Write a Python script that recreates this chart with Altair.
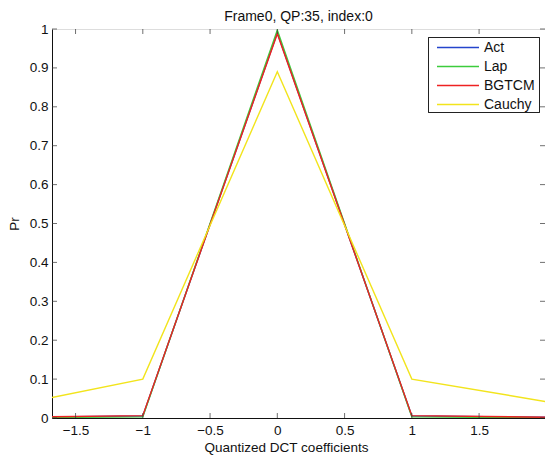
import altair as alt
import pandas as pd

# ---- data ----
x_vals = [-2, -1, 0, 1, 2]
act = [0.002, 0.005, 0.990, 0.005, 0.002]
lap = [0.0005, 0.003, 0.997, 0.003, 0.0005]
bgtcm = [0.002, 0.006, 0.988, 0.006, 0.002]
cauchy = [0.030, 0.100, 0.890, 0.100, 0.042]

series_names = ["Act", "Lap", "BGTCM", "Cauchy"]
series_colors = ["#2444cc", "#3ccc3c", "#ee2222", "#f2e41c"]

x_ticks = [-1.5, -1, -0.5, 0, 0.5, 1, 1.5]
y_ticks = [0, 0.1, 0.2, 0.3, 0.4, 0.5, 0.6, 0.7, 0.8, 0.9, 1.0]
x_domain = [-1.675, 1.99]
y_domain = [0, 1]

title_text = "Frame0, QP:35, index:0"
x_title = "Quantized DCT coefficients"
y_title = "Pr"

W, H = 493, 389
FONT = "Liberation Sans"
LW = 1.4

rows = []
for i, (name, vals) in enumerate(zip(series_names, [act, lap, bgtcm, cauchy])):
    for xv, yv in zip(x_vals, vals):
        rows.append({"x": xv, "y": yv, "series": name, "k": i})
df = pd.DataFrame(rows)

xs = alt.Scale(domain=x_domain, nice=False, zero=False)
ys = alt.Scale(domain=y_domain, nice=False, zero=False)
cs = alt.Scale(domain=series_names, range=series_colors)

x_axis = alt.Axis(values=x_ticks, format="~g", grid=False, ticks=False, tickSize=0,
                  labelPadding=5, labelFontSize=13.5, labelFont=FONT, labelColor="#111",
                  labelOverlap=False,
                  domainColor="#111", title=x_title, titleFont=FONT, titleFontSize=13.5,
                  titleFontWeight="normal", titleColor="#111", titleBaseline="alphabetic",
                  titleY=33.5, titleX=234, titleAlign="center")
y_axis = alt.Axis(values=y_ticks, format="~g", grid=False, ticks=False, tickSize=0,
                  labelPadding=4, labelFontSize=13.5, labelFont=FONT, labelColor="#111",
                  labelOverlap=False, labelBound=False,
                  domainColor="#111", title=y_title, titleFont=FONT, titleFontSize=13.5,
                  titleFontWeight="normal", titleColor="#111", titleBaseline="alphabetic",
                  titleX=-33.5, titleAngle=270)

lines = (
    alt.Chart(df)
    .mark_line(strokeWidth=LW, clip=True)
    .encode(x=alt.X("x:Q", scale=xs, axis=x_axis),
            y=alt.Y("y:Q", scale=ys, axis=y_axis),
            color=alt.Color("series:N", scale=cs, legend=None, sort=series_names),
            order=alt.Order("x:Q"))
)

xt = pd.DataFrame({"t": x_ticks})
yt = pd.DataFrame({"t": y_ticks})
tick_color = "#333"
bottom_ticks = alt.Chart(xt).mark_tick(orient="vertical", size=5, thickness=1, color=tick_color).encode(
    x=alt.X("t:Q", scale=xs, axis=x_axis), y=alt.value(H - 2.5))
top_ticks = alt.Chart(xt).mark_tick(orient="vertical", size=5, thickness=1, color=tick_color).encode(
    x=alt.X("t:Q", scale=xs, axis=x_axis), y=alt.value(2.5))
left_ticks = alt.Chart(yt).mark_tick(orient="horizontal", size=5, thickness=1, color=tick_color).encode(
    y=alt.Y("t:Q", scale=ys, axis=y_axis), x=alt.value(2.5))
right_ticks = alt.Chart(yt).mark_tick(orient="horizontal", size=5, thickness=1, color=tick_color).encode(
    y=alt.Y("t:Q", scale=ys, axis=y_axis), x=alt.value(W - 2.5))

# ---- legend box (top-right, inside the plot) ----
leg_df = pd.DataFrame({"series": series_names, "k": list(range(len(series_names)))})
LX0, LX1, LY0, LY1 = 376, 487, 8.5, 83.5
ROW0, ROWSTEP = 18.5, 19
legend_box = alt.Chart(leg_df).mark_rect(fill="white", stroke="#222", strokeWidth=1).encode(
    x=alt.value(LX0 + 0.5), x2=alt.value(LX1 + 0.5), y=alt.value(LY0), y2=alt.value(LY1))
legend_base = alt.Chart(leg_df).transform_calculate(py=f"{ROW0} + {ROWSTEP} * datum.k")
legend_lines = legend_base.mark_rule(strokeWidth=LW).encode(
    x=alt.value(385), x2=alt.value(427),
    y=alt.Y("py:Q", scale=None, axis=None),
    color=alt.Color("series:N", scale=cs, legend=None))
legend_text = legend_base.mark_text(align="left", baseline="middle", font=FONT, fontSize=14,
                                    color="#111").encode(
    x=alt.value(432), y=alt.Y("py:Q", scale=None, axis=None), text="series:N")

chart = (
    alt.layer(lines, bottom_ticks, top_ticks, left_ticks, right_ticks,
              legend_box, legend_lines, legend_text)
    .properties(
        width=W, height=H,
        title=alt.TitleParams(title_text, font=FONT, fontSize=14, fontWeight="normal",
                              color="#111", anchor="middle", offset=-2),
        autosize=alt.AutoSizeParams(type="none"),
        padding={"left": 52, "top": 29, "right": 0, "bottom": 39},
    )
    .configure_view(stroke="#111", strokeWidth=1)
    .configure(background="white")
)

chart.save("out.html", embed_options={"renderer": "svg", "actions": False})
